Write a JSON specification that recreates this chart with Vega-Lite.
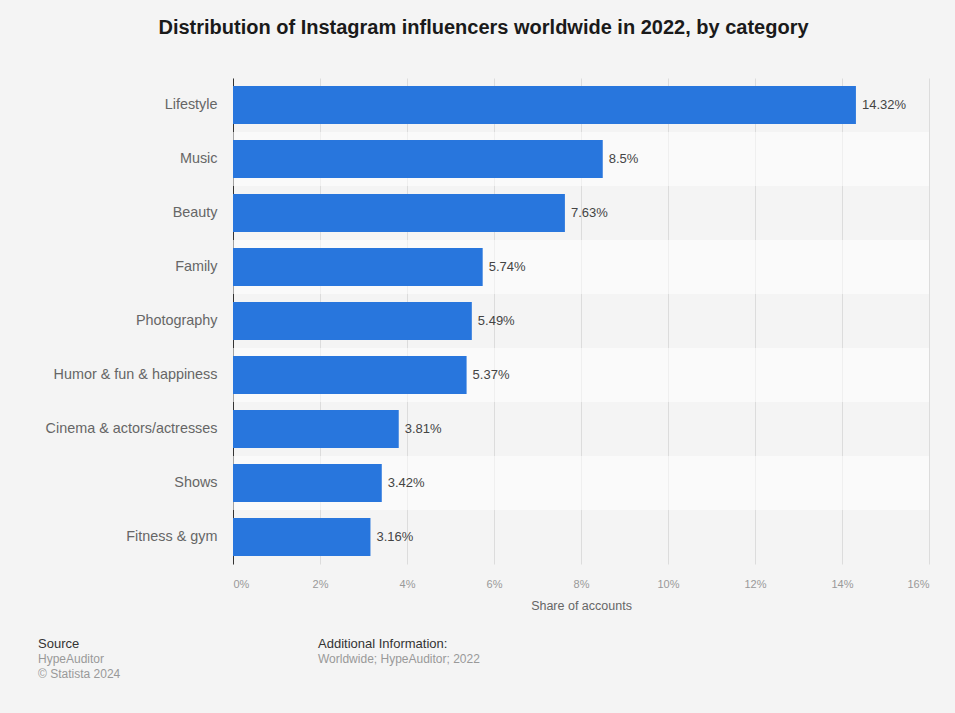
{
  "$schema": "https://vega.github.io/schema/vega-lite/v6.json",
  "background": "#f4f4f4",
  "padding": {"left": 38, "top": 18, "right": 27, "bottom": 17},
  "config": {
    "view": {"stroke": null},
    "font": "Liberation Sans",
    "concat": {"spacing": 25}
  },
  "title": {
    "text": "Distribution of Instagram influencers worldwide in 2022, by category",
    "fontSize": 20,
    "fontWeight": "bold",
    "color": "#1a1a1a",
    "anchor": "middle",
    "offset": 40
  },
  "datasets": {
    "main": [
      {"category": "Lifestyle", "share": 0.1432},
      {"category": "Music", "share": 0.085},
      {"category": "Beauty", "share": 0.0763},
      {"category": "Family", "share": 0.0574},
      {"category": "Photography", "share": 0.0549},
      {"category": "Humor & fun & happiness", "share": 0.0537},
      {"category": "Cinema & actors/actresses", "share": 0.0381},
      {"category": "Shows", "share": 0.0342},
      {"category": "Fitness & gym", "share": 0.0316}
    ]
  },
  "vconcat": [
    {
      "width": 696,
      "height": 486,
      "data": {"name": "main"},
      "encoding": {
        "y": {
          "field": "category",
          "type": "nominal",
          "sort": ["Lifestyle", "Music", "Beauty", "Family", "Photography", "Humor & fun & happiness", "Cinema & actors/actresses", "Shows", "Fitness & gym"],
          "scale": {"paddingInner": 0, "paddingOuter": 0},
          "axis": {
            "title": null,
            "ticks": false,
            "labelPadding": 16,
            "labelFontSize": 14.4,
            "labelColor": "#666666",
            "domainColor": "#333333",
            "domainWidth": 1,
            "grid": false
          }
        }
      },
      "layer": [
        {
          "transform": [
            {"window": [{"op": "row_number", "as": "rn"}]},
            {"filter": "datum.rn % 2 == 0"}
          ],
          "mark": {"type": "bar", "color": "#ffffff", "opacity": 0.55, "height": {"band": 1}},
          "encoding": {
            "x": {"datum": 0, "type": "quantitative"},
            "x2": {"datum": 0.16}
          }
        },
        {
          "mark": {"type": "bar", "color": "#2876dd", "height": {"band": 0.7}},
          "encoding": {
            "x": {
              "field": "share",
              "type": "quantitative",
              "scale": {"domain": [0, 0.16], "nice": false},
              "axis": {
                "values": [0, 0.02, 0.04, 0.06, 0.08, 0.1, 0.12, 0.14, 0.16],
                "format": "~%",
                "title": "Share of accounts",
                "titleFontSize": 12.5,
                "titleFontWeight": "normal",
                "titleColor": "#666666",
                "titlePadding": 10,
                "labelFontSize": 11,
                "labelColor": "#999999",
                "labelPadding": 14,
                "ticks": false,
                "domain": false,
                "grid": true,
                "gridColor": "#dcdcdc",
                "gridWidth": 1
              }
            }
          }
        },
        {
          "mark": {"type": "text", "align": "left", "baseline": "middle", "dx": 6, "fontSize": 13, "color": "#444444"},
          "encoding": {
            "x": {"field": "share", "type": "quantitative"},
            "text": {"field": "share", "type": "quantitative", "format": ".2~%"}
          }
        }
      ]
    },
    {
      "spacing": 20,
      "hconcat": [
        {
          "width": 65,
          "height": 1,
          "data": {"values": [{}]},
          "mark": {"type": "text"},
          "encoding": {"text": {"value": ""}},
          "title": {
            "text": "Source",
            "subtitle": ["HypeAuditor", "© Statista 2024"],
            "anchor": "start",
            "fontSize": 13,
            "fontWeight": "normal",
            "color": "#333333",
            "subtitleFontSize": 12,
            "subtitleColor": "#999999",
            "subtitlePadding": 3,
            "subtitleLineHeight": 15,
            "dx": -195,
            "offset": 10
          }
        },
        {
          "width": 400,
          "height": 1,
          "data": {"values": [{}]},
          "mark": {"type": "text"},
          "encoding": {"text": {"value": ""}},
          "title": {
            "text": "Additional Information:",
            "subtitle": ["Worldwide; HypeAuditor; 2022"],
            "anchor": "start",
            "fontSize": 13,
            "fontWeight": "normal",
            "color": "#333333",
            "subtitleFontSize": 12,
            "subtitleColor": "#999999",
            "subtitlePadding": 3,
            "subtitleLineHeight": 15,
            "offset": 25
          }
        }
      ]
    }
  ]
}
